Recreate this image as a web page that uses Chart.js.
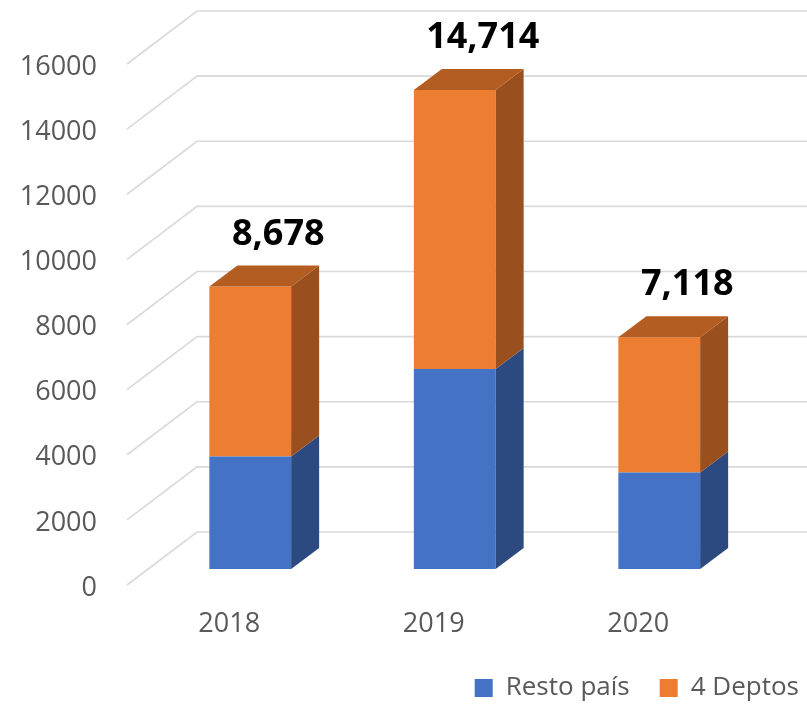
<!DOCTYPE html>
<html>
<head>
<meta charset="utf-8">
<script src="https://cdn.jsdelivr.net/npm/chart.js@4/dist/chart.umd.min.js"></script>
<style>
  html, body { margin: 0; padding: 0; background: #fff; }
  #wrap { width: 807px; height: 711px; }
</style>
</head>
<body>
<div id="wrap"><canvas id="chart" width="807" height="711"></canvas></div>
<script>
// datos
const years = ['2018', '2019', '2020'];
const restoPais = [3455, 6145, 2963];
const cuatroDeptos = [5223, 8569, 4155];
const yTicks = [0, 2000, 4000, 6000, 8000, 10000, 12000, 14000, 16000];

// profundidad 3D de las barras y del fondo
const DEPTH = { dx: 28, dy: 21 };
const WALL = { front: { dx: -21, dy: 16 }, back: { dx: 49, dy: -37 } };

const faceColors = [
  { side: '#2c4a7f', top: '#35599a' },
  { side: '#9a4f1e', top: '#b45d22' }
];

const grey = '#595959';
const fontFam = "'Open Sans', 'Noto Sans', sans-serif";

// pared de fondo con líneas de guía
const wallPlugin = {
  id: 'wall',
  beforeDatasetsDraw(chart) {
    const y = chart.scales.y;
    const left = chart.chartArea.left;
    const ctx = chart.ctx;
    ctx.save();
    ctx.strokeStyle = '#d9d9d9';
    ctx.lineWidth = 1.6;
    yTicks.forEach(v => {
      const py = y.getPixelForValue(v);
      ctx.beginPath();
      ctx.moveTo(left + WALL.front.dx, py + WALL.front.dy);
      ctx.lineTo(left + WALL.back.dx, py + WALL.back.dy);
      ctx.lineTo(chart.width, py + WALL.back.dy);
      ctx.stroke();
    });
    ctx.restore();
  }
};

// caras laterales, superiores y etiquetas de total
const boxPlugin = {
  id: 'box3d',
  afterDatasetsDraw(chart) {
    const ctx = chart.ctx;
    const n = chart.data.datasets.length;
    ctx.save();
    chart.data.datasets.forEach((ds, di) => {
      const meta = chart.getDatasetMeta(di);
      meta.data.forEach(el => {
        const l = el.x - el.width / 2, r = el.x + el.width / 2;
        const t = Math.min(el.y, el.base), b = Math.max(el.y, el.base);
        ctx.fillStyle = faceColors[di].side;
        ctx.beginPath();
        ctx.moveTo(r, b);
        ctx.lineTo(r + DEPTH.dx, b - DEPTH.dy);
        ctx.lineTo(r + DEPTH.dx, t - DEPTH.dy);
        ctx.lineTo(r, t);
        ctx.closePath();
        ctx.fill();
        if (di === n - 1) {
          ctx.fillStyle = faceColors[di].top;
          ctx.beginPath();
          ctx.moveTo(l, t);
          ctx.lineTo(l + DEPTH.dx, t - DEPTH.dy);
          ctx.lineTo(r + DEPTH.dx, t - DEPTH.dy);
          ctx.lineTo(r, t);
          ctx.closePath();
          ctx.fill();
        }
      });
    });
    const top = chart.getDatasetMeta(n - 1);
    ctx.fillStyle = '#000';
    ctx.font = 'bold 36px ' + fontFam;
    ctx.textAlign = 'center';
    ctx.textBaseline = 'middle';
    top.data.forEach((el, i) => {
      const total = chart.data.datasets.reduce((s, d) => s + d.data[i], 0);
      ctx.fillText(total.toLocaleString('en-US'), el.x + DEPTH.dx, el.y - DEPTH.dy - 31);
    });
    ctx.restore();
  }
};

function noPad(s) {
  s.paddingTop = 0;
  s.paddingBottom = 0;
  s.paddingLeft = 0;
  s.paddingRight = 0;
}

new Chart(document.getElementById('chart'), {
  type: 'bar',
  data: {
    labels: years,
    datasets: [
      { label: 'Resto país', data: restoPais, backgroundColor: '#4472c4', borderWidth: 0 },
      { label: '4 Deptos', data: cuatroDeptos, backgroundColor: '#ed7d31', borderWidth: 0 }
    ]
  },
  options: {
    responsive: false,
    animation: false,
    layout: { padding: { left: 0, right: -22, top: 48, bottom: 0 } },
    datasets: { bar: { categoryPercentage: 1, barPercentage: 0.4 } },
    scales: {
      x: {
        stacked: true,
        grid: { display: false, drawTicks: false },
        border: { display: false },
        ticks: { color: grey, font: { family: fontFam, size: 27 }, padding: 39, labelOffset: -21 },
        afterFit(s) { s.height = 76; noPad(s); }
      },
      y: {
        stacked: true,
        min: 0,
        max: 16000,
        grid: { display: false, drawTicks: false },
        border: { display: false },
        ticks: {
          stepSize: 2000, color: grey, font: { family: fontFam, size: 27 }, padding: 51, labelOffset: 19,
          callback: v => String(v)
        },
        afterFit(s) { s.width = 148; noPad(s); }
      },
      y2: {
        position: 'right',
        grid: { display: false, drawTicks: false },
        border: { display: false },
        ticks: { display: false },
        afterFit(s) { s.width = 67.5; noPad(s); }
      }
    },
    plugins: {
      legend: {
        position: 'bottom',
        align: 'end',
        labels: { boxWidth: 18, boxHeight: 18, padding: 30, color: grey, font: { family: fontFam, size: 26 } }
      },
      tooltip: { enabled: false }
    }
  },
  plugins: [wallPlugin, boxPlugin]
});
</script>
</body>
</html>
